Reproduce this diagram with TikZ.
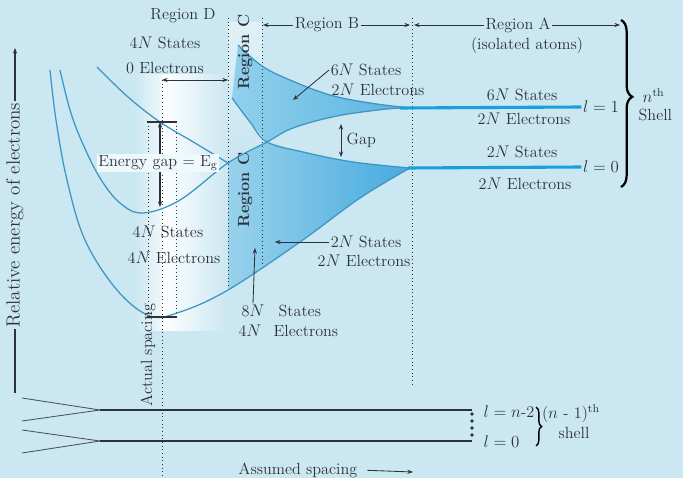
\documentclass[tikz,border=0pt]{standalone}
\usepackage{amsmath,amssymb}
\usepackage{xcolor}
\usepackage{tikz}
\usetikzlibrary{arrows.meta,positioning,decorations.pathreplacing,calc}
\definecolor{bgblue}{RGB}{203,231,241}
\definecolor{curve}{RGB}{62,150,195}
\definecolor{level}{RGB}{25,160,220}
\definecolor{bandhi}{RGB}{70,170,222}
\definecolor{bandlo}{RGB}{145,208,236}
\definecolor{ink}{RGB}{45,50,58}
\definecolor{regc}{RGB}{180,219,237}

\begin{document}
\begin{tikzpicture}[x=0.025cm,y=-0.025cm,
    lbl/.style={font=\fontsize{11.5}{13}\selectfont,text=ink,inner sep=1pt},
    regclbl/.style={font=\fontsize{11.5}{13}\selectfont\bfseries,text=ink,inner sep=1pt,rotate=90},
    bnd/.style={draw=curve,line width=0.9pt},
    lvl/.style={draw=level,line width=2.2pt},
    spc/.style={draw=ink,dotted,line width=0.6pt},
    tip/.style={-{Stealth[length=4pt,width=3pt]},ink,line width=0.6pt},
    dtip/.style={{Stealth[length=4pt,width=3pt]}-{Stealth[length=4pt,width=3pt]},ink,line width=0.6pt}]
  \fill[bgblue] (0,0) rectangle (683,478);
  \useasboundingbox (0,0) rectangle (683,478);
  % regions D and C
  \shade[left color=bgblue,right color=white!70!bgblue] (135,75) rectangle (162,330);
  \shade[left color=white,right color=bgblue] (162,75) rectangle (228,330);
  \shade[top color=white!40!bgblue,bottom color=regc] (228,22) -- (262,22) -- (262,268) -- (228,290) -- cycle;
  % the two bands
  \shade[left color=bandlo,right color=bandhi!75!bandlo] plot[smooth,tension=0.6] coordinates {(238,45) (262,66) (290,80) (330,95) (370,103) (410,108)}
    -- plot[smooth,tension=0.6] coordinates {(410,108) (387,109) (337,116) (293,128) (267,142)}
    -- plot[smooth,tension=0.6] coordinates {(267,142) (250,122) (232,98)} -- cycle;
  \shade[left color=bandlo!80!regc,right color=bandhi] (228,163)
    -- plot[smooth,tension=0.6] coordinates {(267,142) (303,152) (353,162) (410,168)}
    -- plot[smooth,tension=0.6] coordinates {(410,168) (360,198) (300,242) (228,290)} -- cycle;
  % spacing lines
  \draw[spc] (162,80) -- (162,476);
  \draw[spc] (148,122) -- (148,317);
  \draw[spc] (176,122) -- (176,317);
  \draw[spc] (228,18) -- (228,288);
  \draw[spc] (262,18) -- (262,268);
  \draw[spc] (412,18) -- (412,385);
  % band edges
  \draw[bnd] plot[smooth,tension=0.6] coordinates {(50,70) (56,120) (67,180) (85,240) (117,290) (150,316) (180,312) (228,290) (300,242) (360,198) (410,168)};
  \draw[bnd] plot[smooth,tension=0.6] coordinates {(60,70) (70,110) (82,142) (100,178) (120,203) (143,213) (180,200) (228,163) (267,142) (293,128) (337,116) (387,109) (410,108)};
  \draw[bnd] plot[smooth,tension=0.6] coordinates {(97,67) (128,97) (160,122) (195,143) (228,163)};
  \draw[bnd] plot[smooth,tension=0.6] coordinates {(238,45) (262,66) (290,80) (330,95) (370,103) (410,108)};
  \draw[bnd] plot[smooth,tension=0.6] coordinates {(232,98) (250,122) (267,142) (303,152) (353,162) (410,168)};

  % isolated atom levels
  \node[lbl] (lone) at (601,107) {$l = 1$};
  \node[lbl] (lzero) at (601,167) {$l = 0$};
  \coordinate (lv1) at (400,108);
  \coordinate (lv0) at (408,168);
  \draw[lvl] (lv1) -- (lone.west);
  \draw[lvl] (lv0) -- (lzero.west);
  \node[lbl] (st6Nr) at (522,95) {6$N$ States};
  \node[lbl] (el2Nr) at (524,119) {2$N$ Electrons};
  \node[lbl] (st2Nr) at (522,152) {2$N$ States};
  \node[lbl] (el2Nz) at (525,184) {2$N$ Electrons};
  \draw[decorate,decoration={brace,amplitude=8pt,aspect=0.46},line width=1.6pt] (621,20) -- (621,187);
  \node[lbl,anchor=west] (nth) at (641,96) {$n^{\mathrm{th}}$};
  \node[lbl,anchor=west] (shl) at (637,115) {Shell};

  % region headings
  \node[lbl] (regD) at (183,16) {Region D};
  \node[lbl] (regB) at (327,25) {Region B};
  \coordinate (bL) at (263,25);
  \coordinate (bR) at (410,25);
  \draw[tip] (regB.west) -- (bL);
  \draw[tip] (regB.east) -- (bR);
  \node[lbl] (regA) at (518,25) {Region A};
  \coordinate (aL) at (414,25);
  \coordinate (aR) at (620,25);
  \draw[tip] (regA.west) -- (aL);
  \draw[tip] (regA.east) -- (aR);
  \node[lbl] (isol) at (527,45) {(isolated atoms)};
  \node[regclbl] (regC1) at (245,52) {Region C};
  \node[regclbl] (regC2) at (245,190) {Region C};

  % region D
  \node[lbl] (st4Nc) at (165,43) {4$N$ States};
  \node[lbl] (el0) at (165,68) {0 Electrons};
  \coordinate (dL) at (162,80);
  \coordinate (dR) at (228,80);
  \draw[dtip] (dL) -- (dR);
  \coordinate (gTl) at (147,122);
  \coordinate (gTr) at (177,122);
  \coordinate (gBl) at (147,317);
  \coordinate (gBr) at (177,317);
  \draw[ink,line width=1.2pt] (gTl) -- (gTr);
  \draw[ink,line width=1.2pt] (gBl) -- (gBr);
  \coordinate (gT) at (160,122);
  \coordinate (gB) at (160,207);
  \draw[dtip,line width=1pt] (gT) -- (gB);
  \node[lbl,fill=white!70!bgblue] (egap) at (158,163) {Energy gap = E$_\mathrm{g}$};
  \node[lbl] (st4Nv) at (168,232) {4$N$ States};
  \node[lbl] (el4Nv) at (174,258) {4$N$ Electrons};

  % band labels
  \node[lbl] (st6N) at (366,70) {6$N$ States};
  \node[lbl] (el6N) at (378,90) {2$N$ Electrons};
  \coordinate (in6N) at (293,100);
  \draw[tip] (st6N.west) -- (in6N);
  \coordinate (gpT) at (341,124);
  \coordinate (gpB) at (341,157);
  \draw[dtip] (gpT) -- (gpB);
  \node[lbl,anchor=west] (gap) at (345,140) {Gap};
  \node[lbl] (st2Nb) at (366,242) {2$N$ States};
  \node[lbl] (el2Nb) at (364,261) {2$N$ Electrons};
  \coordinate (in2N) at (275,242);
  \draw[tip] (st2Nb.west) -- (in2N);
  \node[lbl] (n8N) at (253,311) {8$N$};
  \node[lbl,anchor=west] (st8N) at (277,311) {States};
  \node[lbl] (n4N) at (250,331) {4$N$};
  \node[lbl,anchor=west] (el8N) at (272,331) {Electrons};
  \coordinate (in8N) at (255,248);
  \draw[tip] (n8N.north) -- (in8N);

  % axis
  \coordinate (yb) at (15,393);
  \coordinate (yt) at (15,48);
  \draw[tip,line width=1pt] (yb) -- (yt);
  \node[lbl,rotate=90,fill=bgblue,font=\fontsize{13.5}{15}\selectfont] (yax) at (15,215) {Relative energy of electrons};

  % inner shell
  \draw[ink!85,line width=0.6pt] (22,398) -- (100,410);
  \draw[ink!85,line width=0.6pt] (22,421) -- (100,410);
  \draw[ink!85,line width=0.6pt] (22,430) -- (100,441);
  \draw[ink!85,line width=0.6pt] (22,453) -- (100,441);
  \coordinate (s1) at (100,410);
  \coordinate (e1) at (472,410);
  \coordinate (s2) at (100,441);
  \coordinate (e2) at (472,441);
  \draw[ink,line width=1.1pt] (s1) -- (e1);
  \draw[ink,line width=1.1pt] (s2) -- (e2);
  \fill[ink] (472,414) circle (1.4pt);
  \fill[ink] (472,421) circle (1.4pt);
  \fill[ink] (472,428) circle (1.4pt);
  \fill[ink] (472,435) circle (1.4pt);
  \node[lbl,anchor=west] (ln2) at (482,412) {$l = n$-2};
  \node[lbl,anchor=west] (l0b) at (482,442) {$l = 0$};
  \draw[decorate,decoration={brace,amplitude=4pt},line width=1pt] (536,407) -- (536,446);
  \node[lbl] (nm1) at (571,414) {($n$ - 1)$^{\mathrm{th}}$};
  \node[lbl] (shb) at (574,433) {shell};
  \node[lbl,rotate=90] (actual) at (148,355) {Actual spacing};
  \node[lbl] (assumed) at (298,470) {Assumed spacing};
  \coordinate (asE) at (413,472);
  \draw[tip,shorten <=6pt] (assumed.east) -- (asE);
\end{tikzpicture}
\end{document}
